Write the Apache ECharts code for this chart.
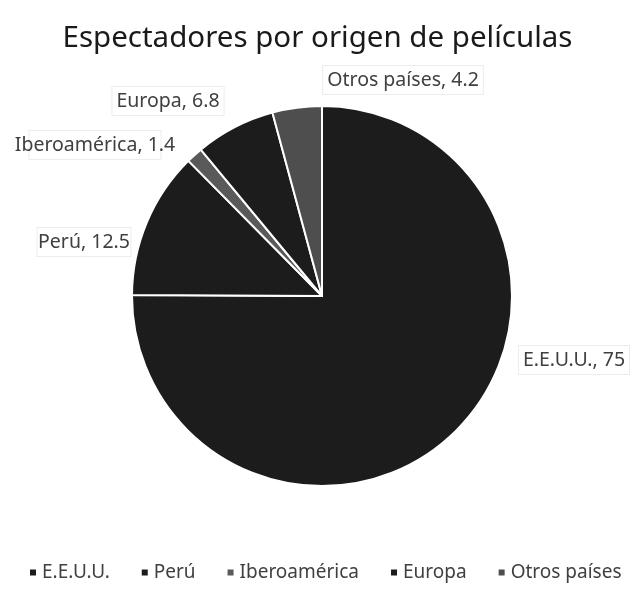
<!DOCTYPE html>
<html>
<head>
<meta charset="utf-8">
<script src="https://cdn.jsdelivr.net/npm/echarts@6/dist/echarts.min.js"></script>
<style>
  html, body { margin: 0; padding: 0; background: #fff; }
  #chart { width: 635px; height: 597px; }
</style>
</head>
<body>
<div id="chart"></div>
<script>
const categories = ['E.E.U.U.', 'Perú', 'Iberoamérica', 'Europa', 'Otros países']
const values = [75, 12.5, 1.4, 6.8, 4.2]
const sliceColors = ['#1c1c1c', '#1c1c1c', '#5a5a5a', '#1c1c1c', '#4e4e4e']

// where each data label sits (center of the label box)
const labelPos = [[574, 360], [84, 242], [95, 145], [168, 101], [403, 80]]

const chart = echarts.init(document.getElementById('chart'))

chart.setOption({
  animation: false,
  title: {
    text: 'Espectadores por origen de películas',
    left: 'center',
    top: 19,
    textStyle: {
      fontFamily: 'Noto Sans',
      fontSize: 29.5,
      fontWeight: 'normal',
      color: '#1a1a1a'
    }
  },
  legend: {
    bottom: 15,
    left: 28,
    width: 607,
    padding: 0,
    itemWidth: 8,
    itemHeight: 8,
    itemGap: 30,
    icon: 'rect',
    textStyle: {
      fontFamily: 'Noto Sans',
      fontSize: 19,
      color: '#404040'
    },
    data: categories
  },
  series: [{
    type: 'pie',
    center: [322, 296],
    radius: 190,
    startAngle: 90,
    clockwise: true,
    itemStyle: {
      borderColor: '#fff',
      borderWidth: 2
    },
    label: {
      show: true,
      formatter: '{b}, {c}',
      fontFamily: 'Noto Sans',
      fontSize: 19.5,
      color: '#404040',
      backgroundColor: '#fff',
      borderColor: '#ececec',
      borderWidth: 1,
      padding: [4, 4],
      overflow: 'none'
    },
    labelLine: { show: false },
    labelLayout: params => ({
      x: labelPos[params.dataIndex][0],
      y: labelPos[params.dataIndex][1],
      align: 'center',
      verticalAlign: 'middle'
    }),
    data: categories.map((name, i) => ({
      name,
      value: values[i],
      itemStyle: { color: sliceColors[i] }
    }))
  }]
})
</script>
</body>
</html>
